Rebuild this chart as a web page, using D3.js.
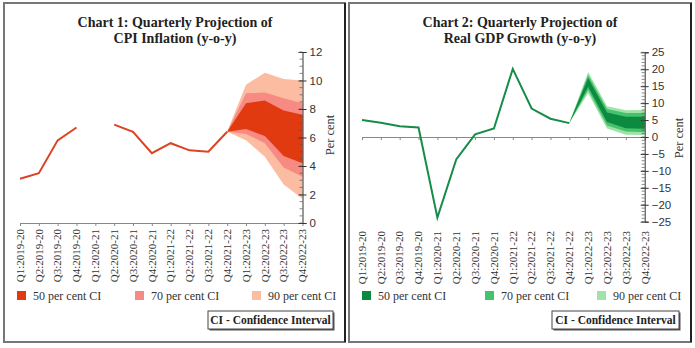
<!DOCTYPE html>
<html>
<head>
<meta charset="utf-8">
<script src="https://cdn.jsdelivr.net/npm/d3@7"></script>
<style>
  body { margin: 0; background: #fff; }
  svg { display: block; font-family: "Liberation Serif", "DejaVu Serif", serif; }
  .tick text { fill: #333; }
</style>
</head>
<body>
<div id="chart"></div>
<script>
// quarters shared by both panels
const quarters = [
  "Q1:2019-20", "Q2:2019-20", "Q3:2019-20", "Q4:2019-20",
  "Q1:2020-21", "Q2:2020-21", "Q3:2020-21", "Q4:2020-21",
  "Q1:2021-22", "Q2:2021-22", "Q3:2021-22", "Q4:2021-22",
  "Q1:2022-23", "Q2:2022-23", "Q3:2022-23", "Q4:2022-23"
];
// fan starts at the last actual quarter
const fanQuarters = quarters.slice(11);

// CPI inflation, actual (Q1:2020-21 not available)
const cpiActual = [3.1, 3.5, 5.8, 6.7, null, 6.9, 6.4, 4.9, 5.6, 5.1, 5.0, 6.4];
const cpi50Low = [6.4, 6.6, 6.1, 4.7, 4.2];
const cpi50High = [6.4, 8.4, 8.6, 7.9, 7.6];
const cpi70Low = [6.4, 6.25, 5.6, 3.9, 3.25];
const cpi70High = [6.4, 9.1, 9.15, 8.75, 8.4];
const cpi90Low = [6.4, 5.8, 4.65, 2.7, 1.7];
const cpi90High = [6.4, 9.7, 10.55, 10.1, 10.0];
const cpiTicks = [0, 2, 4, 6, 8, 10, 12];

// real GDP growth, actual
const gdpActual = [5.0, 4.2, 3.2, 2.8, -23.8, -6.6, 0.8, 2.5, 20.1, 8.4, 5.4, 4.1];
const gdp50Low = [4.1, 14.8, 4.4, 2.6, 2.4];
const gdp50High = [4.1, 17.4, 7.2, 6.0, 6.0];
const gdp70Low = [4.1, 13.9, 3.4, 1.6, 1.4];
const gdp70High = [4.1, 18.3, 8.3, 7.1, 7.1];
const gdp90Low = [4.1, 12.9, 2.5, 0.7, 0.6];
const gdp90High = [4.1, 19.2, 9.1, 7.9, 8.0];
const gdpTicks = [-25, -20, -15, -10, -5, 0, 5, 10, 15, 20, 25];

const ciLabels = ["50 per cent CI", "70 per cent CI", "90 per cent CI"];

const svg = d3.select("#chart").append("svg")
  .attr("width", 695).attr("height", 348);

function drawPanel(opt) {
  const g = svg.append("g");

  // frame
  g.append("rect")
    .attr("x", opt.left).attr("y", 3)
    .attr("width", opt.width).attr("height", 339)
    .attr("fill", "#fff").attr("stroke", "#777").attr("stroke-width", 2);
  g.append("line")
    .attr("x1", opt.left + opt.width).attr("x2", opt.left + opt.width)
    .attr("y1", 3).attr("y2", 342)
    .attr("stroke", "#222").attr("stroke-width", 2);

  // title
  g.selectAll(".title")
    .data(opt.title)
    .enter().append("text")
    .attr("x", opt.cx)
    .attr("y", (d, i) => 27 + i * 16)
    .attr("text-anchor", "middle")
    .attr("font-weight", "bold")
    .attr("font-size", 14)
    .attr("fill", "#222")
    .text(d => d);

  const x = d3.scalePoint().domain(quarters).range(opt.xRange);
  const y = d3.scaleLinear().domain(opt.yDomain).range(opt.yRange);

  // x axis line + ticks
  const xAxisY = y(opt.xAxisAt);
  const xAxis = g.append("g")
    .attr("transform", `translate(0,${xAxisY})`)
    .call(d3.axisBottom(x).tickSize(3).tickSizeOuter(0).tickFormat(""));
  xAxis.select(".domain").attr("stroke", "#888");
  xAxis.selectAll(".tick line").attr("stroke", "#888");

  // quarter labels
  g.selectAll(".qlabel")
    .data(quarters)
    .enter().append("text")
    .attr("transform", d => `translate(${x(d) + 3.8},${opt.labelTop}) rotate(-90)`)
    .attr("text-anchor", "end")
    .attr("font-size", 11)
    .attr("fill", "#333")
    .text(d => d);

  // fan bands, widest first
  opt.bands.forEach(b => {
    const rows = fanQuarters.map((q, i) => ({ q, lo: b.lo[i], hi: b.hi[i] }));
    g.append("path")
      .datum(rows)
      .attr("fill", b.color)
      .attr("d", d3.area()
        .x(d => x(d.q))
        .y0(d => y(d.lo))
        .y1(d => y(d.hi)));
  });

  // actual line
  const rows = opt.actual.map((v, i) => ({ q: quarters[i], v }));
  g.append("path")
    .datum(rows)
    .attr("fill", "none")
    .attr("stroke", opt.lineColor)
    .attr("stroke-width", 2)
    .attr("d", d3.line()
      .defined(d => d.v !== null)
      .x(d => x(d.q))
      .y(d => y(d.v)));

  // y axis on the right
  const axisX = opt.xRange[1];
  const yAxis = g.append("g")
    .attr("transform", `translate(${axisX},0)`)
    .call(d3.axisRight(y).tickValues(opt.ticks).tickSize(4).tickPadding(3)
      .tickFormat(d3.format("d")));
  yAxis.select(".domain").attr("stroke", "#333");
  yAxis.selectAll(".tick line").attr("stroke", "#333").attr("x1", -4);
  yAxis.selectAll(".tick text").attr("font-size", 11.5).attr("fill", "#333");

  // minor ticks
  g.append("g")
    .selectAll("line")
    .data(d3.range(opt.yDomain[0], opt.yDomain[1] + 1e-9, opt.minor))
    .enter().append("line")
    .attr("x1", axisX - 3).attr("x2", axisX)
    .attr("y1", d => y(d)).attr("y2", d => y(d))
    .attr("stroke", "#555").attr("stroke-width", 0.7);

  // axis title
  g.append("text")
    .attr("transform", `translate(${opt.unitX},${opt.unitY}) rotate(-90)`)
    .attr("text-anchor", "middle")
    .attr("font-size", 12.5)
    .attr("fill", "#333")
    .text("Per cent");

  // legend
  const leg = g.selectAll(".leg")
    .data(opt.bands.slice().reverse())
    .enter().append("g")
    .attr("transform", (d, i) => `translate(${opt.legendX[i]},291)`);
  leg.append("rect")
    .attr("width", 9).attr("height", 9)
    .attr("fill", d => d.color);
  leg.append("text")
    .attr("x", 16).attr("y", 9)
    .attr("font-size", 12)
    .attr("fill", "#333")
    .text((d, i) => ciLabels[i]);

  // note box
  const bx = opt.boxX, bw = opt.boxW;
  g.append("rect")
    .attr("x", bx + 1.5).attr("y", 312.5)
    .attr("width", bw).attr("height", 18)
    .attr("fill", "#555");
  g.append("rect")
    .attr("x", bx).attr("y", 311)
    .attr("width", bw).attr("height", 18)
    .attr("fill", "#fff").attr("stroke", "#444").attr("stroke-width", 1);
  g.append("text")
    .attr("x", bx + bw / 2).attr("y", 324)
    .attr("text-anchor", "middle")
    .attr("font-weight", "bold")
    .attr("font-size", 11.5)
    .attr("fill", "#222")
    .text("CI - Confidence Interval");
}

drawPanel({
  left: 4, width: 341, cx: 175,
  title: ["Chart 1: Quarterly Projection of", "CPI Inflation (y-o-y)"],
  xRange: [20, 302.5],
  yDomain: [0, 12], yRange: [223, 52], ticks: cpiTicks, minor: 0.5,
  xAxisAt: 0, labelTop: 229,
  actual: cpiActual, lineColor: "#dc4322",
  bands: [
    { lo: cpi90Low, hi: cpi90High, color: "#fbbca2" },
    { lo: cpi70Low, hi: cpi70High, color: "#f88a84" },
    { lo: cpi50Low, hi: cpi50High, color: "#e13a10" }
  ],
  unitX: 334, unitY: 135,
  legendX: [17, 135, 252],
  boxX: 208, boxW: 125
});

drawPanel({
  left: 349, width: 342, cx: 520,
  title: ["Chart 2: Quarterly Projection of", "Real GDP Growth (y-o-y)"],
  xRange: [362, 644.7],
  yDomain: [-25, 25], yRange: [221.7, 52.3], ticks: gdpTicks, minor: 1,
  xAxisAt: 0, labelTop: 231,
  actual: gdpActual, lineColor: "#178c4a",
  bands: [
    { lo: gdp90Low, hi: gdp90High, color: "#9fe3a6" },
    { lo: gdp70Low, hi: gdp70High, color: "#45c26e" },
    { lo: gdp50Low, hi: gdp50High, color: "#0b8a40" }
  ],
  unitX: 683, unitY: 138,
  legendX: [362, 485, 597],
  boxX: 552, boxW: 127
});
</script>
</body>
</html>
